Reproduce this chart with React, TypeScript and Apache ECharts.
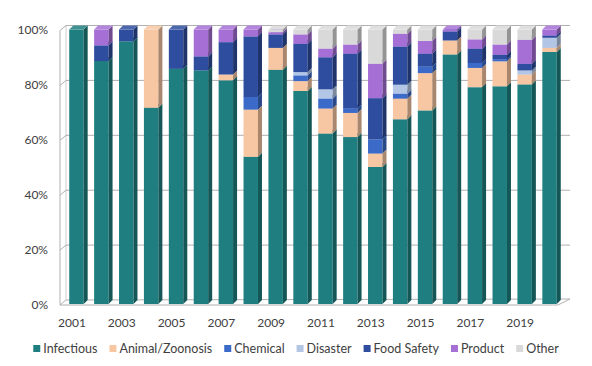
import React, { useEffect, useRef } from "react";
import * as echarts from "echarts";

const years = ["2001","2002","2003","2004","2005","2006","2007","2008","2009","2010","2011","2012","2013","2014","2015","2016","2017","2018","2019","2020"];
const categoryNames = ["Infectious","Animal/Zoonosis","Chemical","Disaster","Food Safety","Product","Other"];
const infectious = [100, 88.5, 95.7, 71.5, 85.7, 85.1, 81.5, 53.6, 85.3, 77.6, 62.1, 60.8, 49.9, 67.3, 70.5, 90.9, 79.0, 79.3, 80.0, 91.8];
const animal = [0, 0, 0, 28.5, 0, 0, 2.1, 17.2, 8.0, 3.6, 9.1, 8.8, 4.9, 7.5, 13.6, 5.1, 7.0, 9.1, 3.6, 1.5];
const chemical = [0, 0, 0, 0, 0, 0, 0, 4.6, 0, 2.1, 3.6, 1.6, 5.2, 1.8, 2.4, 0, 1.8, 0.8, 0, 0];
const disaster = [0, 0, 0, 0, 0, 0, 0, 0, 0, 1.2, 3.4, 0, 0, 3.3, 0, 0, 0, 0, 1.5, 3.7];
const foodSafety = [0, 5.7, 4.3, 0, 14.3, 5.1, 11.8, 22.1, 4.9, 10.3, 11.7, 20.0, 15.0, 13.9, 4.7, 3.3, 5.2, 1.6, 2.4, 0.8];
const product = [0, 5.8, 0, 0, 0, 9.8, 4.6, 2.5, 0.8, 3.4, 3.1, 3.3, 12.5, 4.6, 4.6, 0.7, 3.4, 3.7, 8.7, 2.2];
const other = [0, 0, 0, 0, 0, 0, 0, 0, 1.0, 1.8, 7.0, 5.5, 12.5, 1.6, 4.2, 0, 3.6, 5.5, 3.8, 0];
const yTicks = [0, 20, 40, 60, 80, 100];

const seriesValues = [infectious, animal, chemical, disaster, foodSafety, product, other];
const colors = ["#1F7F80", "#F7C6A2", "#3C6AC8", "#B3C6E6", "#2E4D9E", "#A66FD6", "#D9D9D9"];

function shade(hex: string, f: number) {
  const n = parseInt(hex.slice(1), 16);
  let r = (n >> 16) & 255, g = (n >> 8) & 255, b = n & 255;
  const adj = (c: number) => Math.max(0, Math.min(255, Math.round(f < 1 ? c * f : c + (255 - c) * (f - 1))));
  r = adj(r); g = adj(g); b = adj(b);
  return "rgb(" + r + "," + g + "," + b + ")";
}

const DX = 4, DY = -4;

function barRender(color: string) {
  const side = shade(color, 0.68);
  const top = shade(color, 1.15);
  return (params: any, api: any) => {
    const xi = api.value(0), b = api.value(1), t = api.value(2);
    if (t - b <= 0) return null;
    const p0 = api.coord([xi, b]);
    const p1 = api.coord([xi, t]);
    const w = api.size([1, 0])[0] * 0.58;
    const x0 = p0[0] - w / 2, x1 = p0[0] + w / 2;
    const yb = p0[1], yt = p1[1];
    return {
      type: "group",
      children: [
        { type: "rect", shape: { x: x0, y: yt, width: w, height: yb - yt }, style: { fill: color } },
        { type: "polygon", shape: { points: [[x1, yb], [x1 + DX, yb + DY], [x1 + DX, yt + DY], [x1, yt]] }, style: { fill: side } },
        { type: "polygon", shape: { points: [[x0, yt], [x0 + DX, yt + DY], [x1 + DX, yt + DY], [x1, yt]] }, style: { fill: top } },
      ],
    };
  };
}

export default function App() {
  const ref = useRef<HTMLDivElement>(null);
  useEffect(() => {
    document.body.style.margin = "0";
    const chart = echarts.init(ref.current!, null, { renderer: "svg" });
    const series: any[] = [];
    const wallColor = "#B0B0B0";
    series.push({
      type: "custom",
      name: "walls",
      silent: true,
      data: yTicks.map((v) => [0, v]),
      renderItem: (params: any, api: any) => {
        const cs = params.coordSys;
        const v = api.value(1);
        const yf = api.coord([0, v])[1] + 1;
        const FL = cs.x - 4, BL = cs.x + 2, BR = cs.x + cs.width + 8, FR = cs.x + cs.width - 4;
        const children: any[] = [];
        if (v === 0) {
          children.push({ type: "polygon", shape: { points: [[FL, yf], [FR, yf], [BR, yf - 6], [BL, yf - 5]] }, style: { fill: "#fff", stroke: wallColor, lineWidth: 1 } });
          const ytop = api.coord([0, 100])[1] + 1;
          children.push({ type: "line", shape: { x1: FL, y1: yf, x2: FL, y2: ytop }, style: { stroke: wallColor, lineWidth: 1 } });
          children.push({ type: "line", shape: { x1: BL, y1: yf - 5, x2: BL, y2: ytop - 5 }, style: { stroke: "#D0D0D0", lineWidth: 1 } });
        } else {
          children.push({ type: "polyline", shape: { points: [[FL, yf], [BL, yf - 5], [BR, yf - 5]] }, style: { stroke: wallColor, lineWidth: 1, fill: "none" } });
        }
        return { type: "group", children };
      },
      z: 1,
    });
    let base = years.map(() => 0);
    seriesValues.forEach((vals, si) => {
      const data = vals.map((v, i) => [i, base[i], base[i] + v]);
      base = base.map((b, i) => b + vals[i]);
      series.push({
        type: "custom",
        name: categoryNames[si],
        itemStyle: { color: colors[si] },
        data,
        encode: { x: 0, y: 2 },
        renderItem: barRender(colors[si]),
        z: 2,
      });
    });
    chart.setOption({
      animation: false,
      textStyle: { fontFamily: "Lato" },
      grid: { left: 64, right: 30, top: 29.5, bottom: 62 },
      xAxis: {
        type: "category",
        data: years,
        axisLine: { show: false },
        axisTick: { show: false },
        axisLabel: { interval: 1, margin: 12, fontSize: 12, color: "#404040", fontFamily: "Lato", padding: [0, 9, 0, 0] },
      },
      yAxis: {
        type: "value",
        min: 0,
        max: 100,
        interval: 20,
        axisLine: { show: false },
        axisTick: { show: false },
        splitLine: { show: false },
        axisLabel: { formatter: "{value}%", margin: 16, fontSize: 12, color: "#404040", fontFamily: "Lato" },
      },
      legend: {
        data: categoryNames,
        bottom: 6,
        left: "center",
        icon: "rect",
        itemWidth: 7,
        itemHeight: 7,
        itemGap: 12,
        textStyle: { fontSize: 12.5, color: "#404040", fontFamily: "Lato", padding: [0, 0, 0, -2] },
      },
      series,
    });
    return () => chart.dispose();
  }, []);
  return <div ref={ref} style={{ width: 592, height: 366 }} />;
}
